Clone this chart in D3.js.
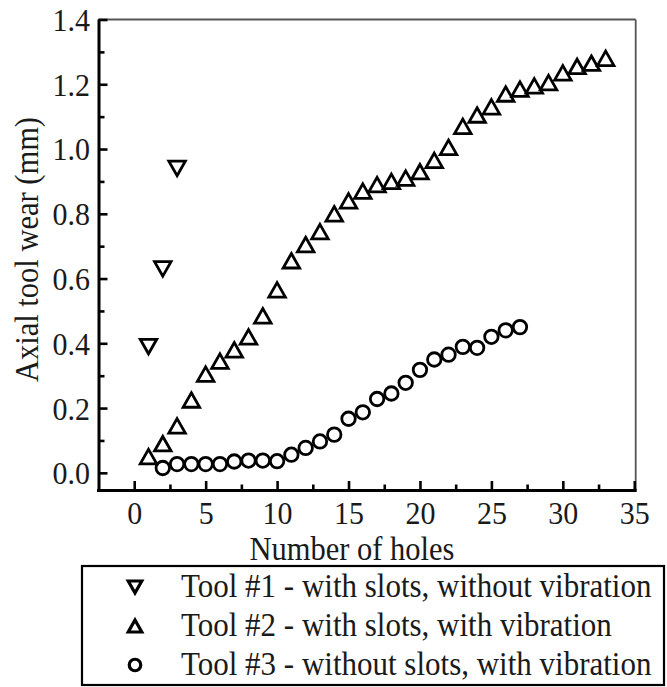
<!DOCTYPE html>
<html>
<head>
<meta charset="utf-8">
<script src="https://cdn.jsdelivr.net/npm/d3@7/dist/d3.min.js"></script>
<style>
  html, body { margin: 0; padding: 0; background: #fff; }
  svg text { font-family: "Liberation Serif", "Times New Roman", serif; fill: #1a1a1a; }
</style>
</head>
<body>
<svg id="chart" width="667" height="687"></svg>
<script>
// Axial tool wear versus number of drilled holes, three tools
const tool1Holes = [1, 2, 3];
const tool1Wear  = [0.39, 0.63, 0.94];

const tool2Holes = [1, 2, 3, 4, 5, 6, 7, 8, 9, 10, 11, 12, 13, 14, 15, 16, 17,
                    18, 19, 20, 21, 22, 23, 24, 25, 26, 27, 28, 29, 30, 31, 32, 33];
const tool2Wear  = [0.05, 0.09, 0.145, 0.225, 0.305, 0.345, 0.38, 0.42, 0.485, 0.565,
                    0.655, 0.705, 0.745, 0.80, 0.84, 0.87, 0.89, 0.90, 0.91, 0.93,
                    0.965, 1.005, 1.07, 1.105, 1.13, 1.17, 1.185, 1.195, 1.205, 1.235,
                    1.255, 1.265, 1.28];

const tool3Holes = [2, 3, 4, 5, 6, 7, 8, 9, 10, 11, 12, 13, 14, 15, 16, 17, 18,
                    19, 20, 21, 22, 23, 24, 25, 26, 27];
const tool3Wear  = [0.015, 0.027, 0.027, 0.027, 0.027, 0.035, 0.038, 0.038, 0.036,
                    0.056, 0.077, 0.097, 0.118, 0.167, 0.187, 0.228, 0.245, 0.278,
                    0.318, 0.35, 0.365, 0.389, 0.386, 0.42, 0.44, 0.45];

const xMajorTicks = [0, 5, 10, 15, 20, 25, 30, 35];
const xMinorTicks = [2.5, 7.5, 12.5, 17.5, 22.5, 27.5, 32.5];
const yMajorTicks = [0.0, 0.2, 0.4, 0.6, 0.8, 1.0, 1.2, 1.4];
const yMinorTicks = [0.1, 0.3, 0.5, 0.7, 0.9, 1.1, 1.3];

const legendLabels = [
  "Tool #1 - with slots, without vibration",
  "Tool #2 - with slots, with vibration",
  "Tool #3 - without slots, with vibration"
];
const legendShapes = ["down", "up", "circle"];

const svg = d3.select("#chart");
const stretch = 1.07; // slightly tall serif lettering

const plotLeft = 98.5, plotRight = 635.7, plotTop = 19.5, plotBottom = 490;
const x = d3.scaleLinear().domain([-2.5, 35.1]).range([plotLeft, plotRight]);
const y = d3.scaleLinear().domain([-0.053, 1.4]).range([plotBottom, plotTop]);

// frame: thin grey top/right edges
svg.append("line").attr("x1", plotLeft).attr("x2", plotRight).attr("y1", plotTop).attr("y2", plotTop)
  .attr("stroke", "#555").attr("stroke-width", 1.8);
svg.append("line").attr("x1", plotRight).attr("x2", plotRight).attr("y1", plotTop).attr("y2", plotBottom)
  .attr("stroke", "#555").attr("stroke-width", 1.8);

// bottom axis (ticks pointing inward)
const gx = svg.append("g").attr("transform", `translate(0,${plotBottom})`);
gx.call(d3.axisBottom(x).tickValues(xMajorTicks).tickSize(-9).tickSizeOuter(0)
  .tickFormat(d3.format("d")));
const gxm = svg.append("g").attr("transform", `translate(0,${plotBottom})`);
gxm.call(d3.axisBottom(x).tickValues(xMinorTicks).tickSize(-5.5).tickSizeOuter(0).tickFormat(""));
gxm.select(".domain").remove();

// left axis
const gy = svg.append("g").attr("transform", `translate(${plotLeft},0)`);
gy.call(d3.axisLeft(y).tickValues(yMajorTicks).tickSize(-9).tickSizeOuter(0)
  .tickFormat(d3.format(".1f")));
const gym = svg.append("g").attr("transform", `translate(${plotLeft},0)`);
gym.call(d3.axisLeft(y).tickValues(yMinorTicks).tickSize(-6).tickSizeOuter(0).tickFormat(""));
gym.select(".domain").remove();

svg.selectAll(".domain").attr("stroke", "#000").attr("stroke-width", 3);
gx.select(".domain").attr("d", `M${plotLeft - 1.5},0.5H${plotRight + 1}`);
gy.select(".domain").attr("d", `M0.5,${plotTop}V${plotBottom + 1.5}`);
svg.selectAll(".tick line").attr("stroke", "#000").attr("stroke-width", 2.6);

gx.selectAll(".tick text").attr("y", 0).attr("dy", 0)
  .attr("transform", `translate(0,34) scale(1,${stretch})`)
  .style("font-size", "30px").attr("fill", "#1a1a1a");
gy.selectAll(".tick text").attr("x", -8.5).attr("y", 0).attr("dy", "0.34em")
  .attr("transform", `scale(1,${stretch})`)
  .style("font-size", "30px").attr("fill", "#1a1a1a");

// axis titles
svg.append("text").attr("transform", `translate(352,560) scale(1,${stretch})`)
  .attr("text-anchor", "middle")
  .style("font-size", "30.5px").text("Number of holes");
svg.append("text").attr("transform", `translate(38,249.5) rotate(-90) scale(1,${stretch})`)
  .attr("text-anchor", "middle").style("font-size", "30.5px").text("Axial tool wear (mm)");

// marker path generators, centred on bounding box
function markerPath(shape, w, h) {
  if (shape === "up") {
    return `M0,${-h / 2}L${w / 2},${h / 2}L${-w / 2},${h / 2}Z`;
  } else if (shape === "down") {
    return `M0,${h / 2}L${w / 2},${-h / 2}L${-w / 2},${-h / 2}Z`;
  }
  const r = w / 2;
  return `M${r},0A${r},${r} 0 1,1 ${-r},0A${r},${r} 0 1,1 ${r},0Z`;
}

function drawSeries(holes, wear, shape, w, h) {
  svg.append("g").selectAll("path")
    .data(holes.map((hv, i) => [hv, wear[i]]))
    .join("path")
    .attr("transform", d => `translate(${x(d[0])},${y(d[1])})`)
    .attr("d", markerPath(shape, w, h))
    .attr("fill", "#fff")
    .attr("stroke", "#000")
    .attr("stroke-width", 2.8)
    .attr("stroke-linejoin", "miter");
}

drawSeries(tool3Holes, tool3Wear, "circle", 13.5, 13.5);
drawSeries(tool2Holes, tool2Wear, "up", 16.5, 14.5);
drawSeries(tool1Holes, tool1Wear, "down", 16.5, 14.5);

// legend box
const lg = svg.append("g");
lg.append("rect").attr("x", 82).attr("y", 566).attr("width", 582).attr("height", 119)
  .attr("fill", "#fff").attr("stroke", "#000").attr("stroke-width", 2.2);

const rowY = [587, 626, 665];
legendLabels.forEach((label, i) => {
  lg.append("path")
    .attr("transform", `translate(135,${rowY[i]})`)
    .attr("d", markerPath(legendShapes[i], legendShapes[i] === "circle" ? 11.5 : 13.5, 12))
    .attr("fill", "#fff").attr("stroke", "#000").attr("stroke-width", 3.2);
  lg.append("text").attr("transform", `translate(181,${rowY[i] + 10}) scale(1,${stretch})`)
    .style("font-size", "31px").text(label);
});
</script>
</body>
</html>
